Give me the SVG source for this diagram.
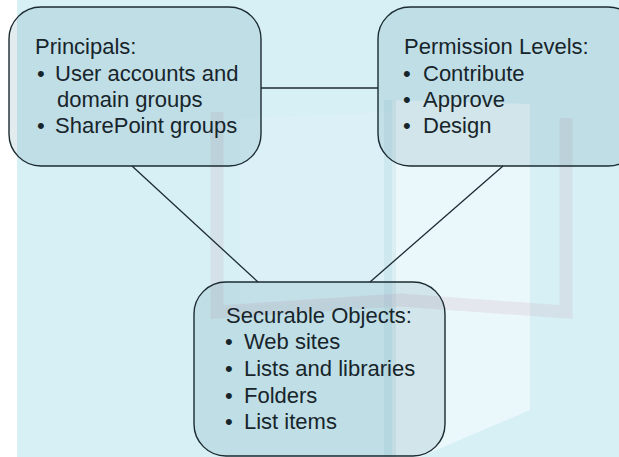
<svg xmlns="http://www.w3.org/2000/svg" width="619" height="457" viewBox="0 0 619 457">
  <style>
    .bg { fill: #d7f0f6; }
    .box { fill: rgb(60,120,140); fill-opacity: 0.15; stroke: #1b2b31; stroke-width: 1.4; }
    .edge { stroke: #1b2b31; stroke-width: 1.3; fill: none; }
    .label { font-family: "Liberation Sans", Arial, sans-serif; font-size: 22px; fill: #17252b; }
    .page { fill: #ffffff; }
    .frame { fill: none; stroke: #c9a6b8; stroke-width: 13; stroke-opacity: 0.2; }
  </style>

  <!-- page background -->
  <rect x="0" y="0" width="619" height="457" fill="#ffffff"/>
  <rect class="bg" x="17" y="0" width="602" height="457"/>

  <!-- faint backdrop: open book shape -->
  <g id="backdrop">
    <polygon class="page" points="240,118 392,112 392,300 240,306" opacity="0.12"/>
    <polygon class="page" points="392,100 530,104 530,410 420,457 392,457" opacity="0.5"/>
    <rect x="384" y="100" width="12" height="357" fill="#9cc6d2" opacity="0.2"/>
    <polyline class="frame" points="217,112 217,312 400,300 566,312 566,118"/>
  </g>

  <!-- connectors -->
  <g id="connectors">
    <line class="edge" x1="261" y1="88" x2="378" y2="88"/>
    <line class="edge" x1="132" y1="166" x2="258" y2="282"/>
    <line class="edge" x1="503" y1="166" x2="370" y2="282"/>
  </g>

  <!-- Principals -->
  <g id="principals">
    <rect class="box" x="9" y="7" width="252" height="159" rx="32" ry="32"/>
    <text class="label" x="35" y="54">Principals:</text>
    <text class="label" x="37" y="81">•</text>
    <text class="label" x="55" y="81">User accounts and</text>
    <text class="label" x="57" y="107">domain groups</text>
    <text class="label" x="37" y="133">•</text>
    <text class="label" x="55" y="133">SharePoint groups</text>
  </g>

  <!-- Permission Levels -->
  <g id="permission-levels">
    <rect class="box" x="378" y="7" width="262" height="159" rx="32" ry="32"/>
    <text class="label" x="404" y="54">Permission Levels:</text>
    <text class="label" x="403" y="81">•</text>
    <text class="label" x="423" y="81">Contribute</text>
    <text class="label" x="403" y="107">•</text>
    <text class="label" x="423" y="107">Approve</text>
    <text class="label" x="403" y="133">•</text>
    <text class="label" x="423" y="133">Design</text>
  </g>

  <!-- Securable Objects -->
  <g id="securable-objects">
    <rect class="box" x="194" y="282" width="251" height="174" rx="32" ry="32"/>
    <text class="label" x="226" y="323">Securable Objects:</text>
    <text class="label" x="225" y="349">•</text>
    <text class="label" x="244" y="349">Web sites</text>
    <text class="label" x="225" y="376">•</text>
    <text class="label" x="244" y="376">Lists and libraries</text>
    <text class="label" x="225" y="403">•</text>
    <text class="label" x="244" y="403">Folders</text>
    <text class="label" x="225" y="429">•</text>
    <text class="label" x="244" y="429">List items</text>
  </g>
</svg>
